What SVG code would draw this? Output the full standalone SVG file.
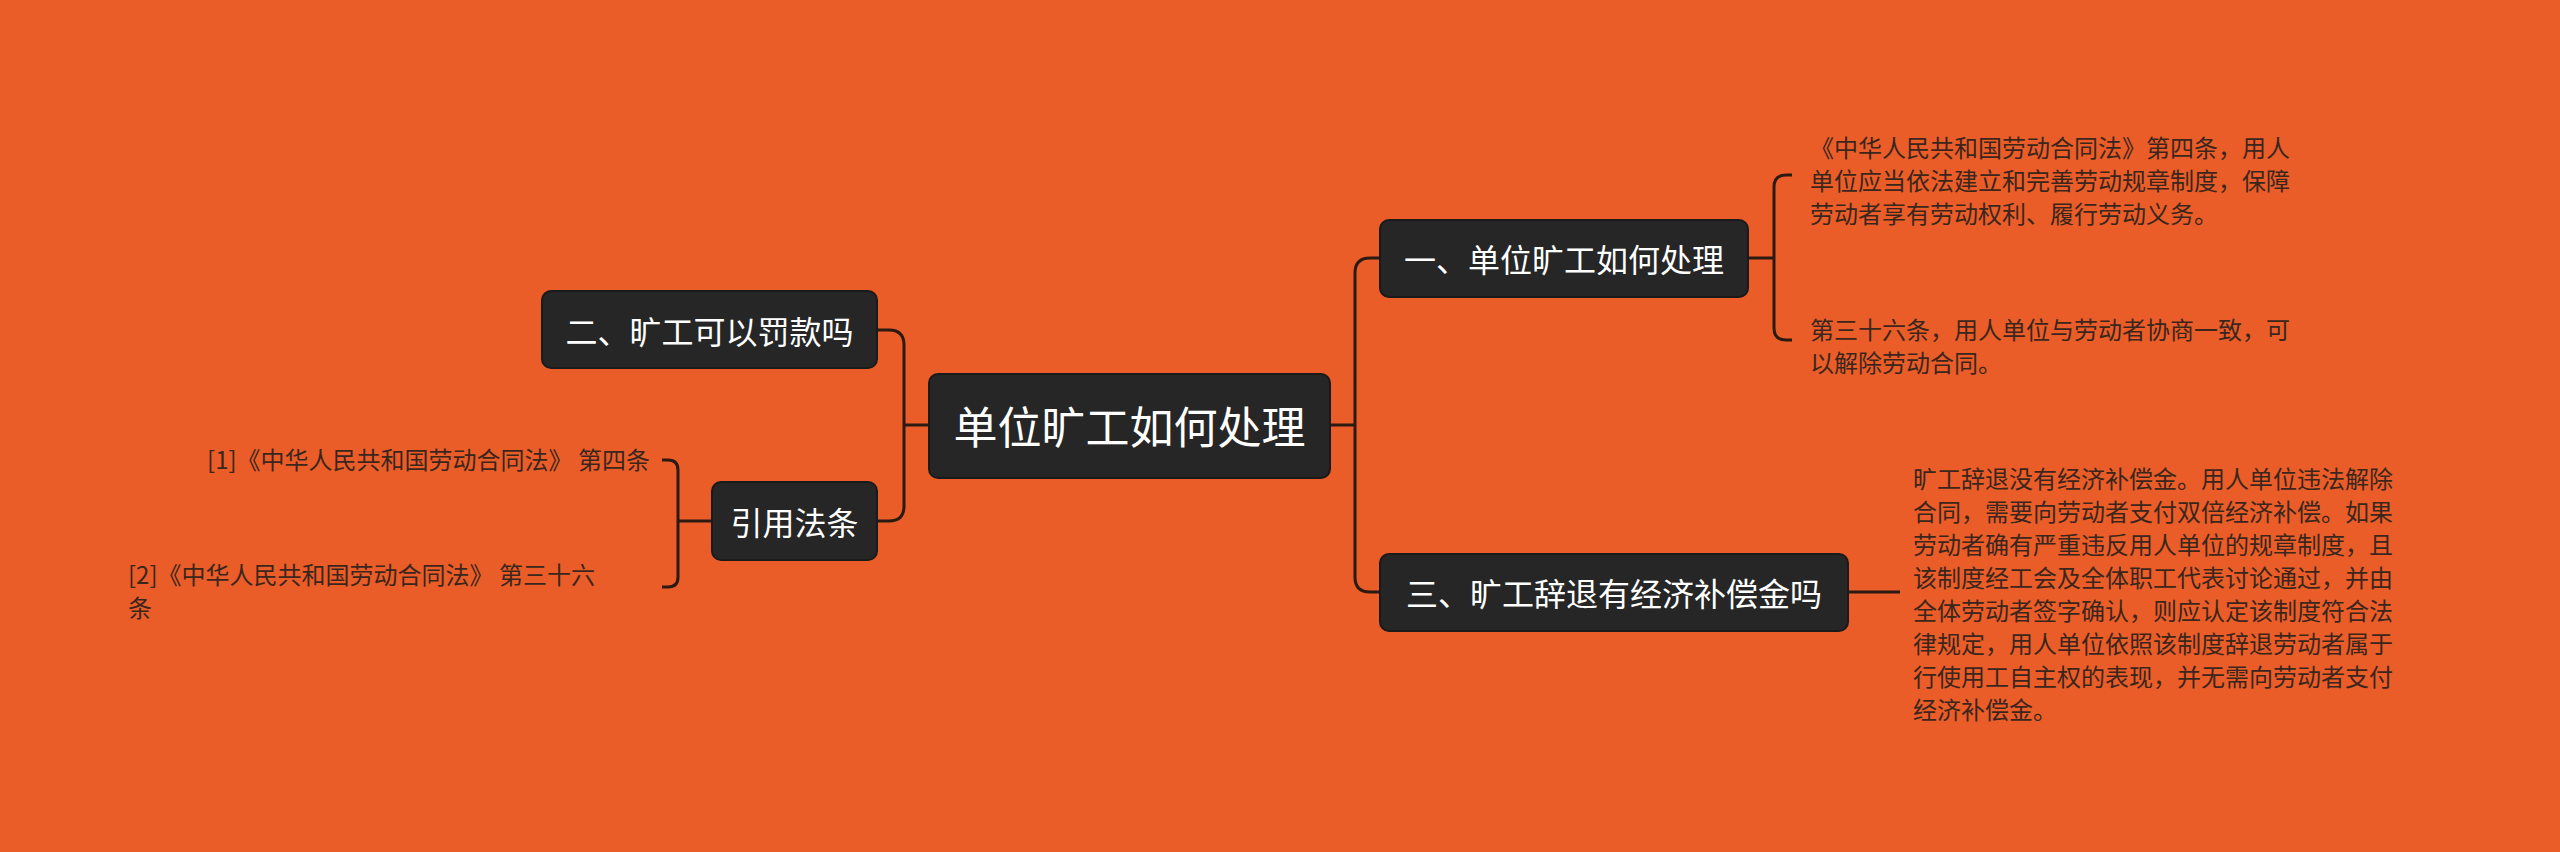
<svg xmlns="http://www.w3.org/2000/svg" width="2560" height="852" viewBox="0 0 2560 852">
<style>
.n{fill:#262626;stroke:#1a1a1a;stroke-width:2}
.t{fill:#fff;font-family:"Noto Sans CJK SC","Noto Sans",sans-serif;dominant-baseline:central}
.s{fill:#3a261c;font-family:"Noto Sans CJK SC","Noto Sans",sans-serif;font-size:24px;dominant-baseline:central}
.c{fill:none;stroke:#2a1a12;stroke-width:3}
</style>
<rect width="2560" height="852" fill="#EA5D28"/>
<g id="connectors">
<path class="c" d="M1330 425H1355M1380 258H1370Q1355 258 1355 273V577Q1355 592 1370 592H1380"/>
<path class="c" d="M929 425H904M877 330H889Q904 330 904 345V506Q904 521 889 521H877"/>
<path class="c" d="M1748 258H1774M1792 175H1786Q1774 175 1774 187V328Q1774 340 1786 340H1792"/>
<path class="c" d="M1848 592H1900"/>
<path class="c" d="M712 521H678M662 460H668Q678 460 678 470V577Q678 587 668 587H662"/>
</g>
<g id="center"><rect class="n" x="929" y="374" width="401" height="104" rx="9"/><text class="t" x="1129.5" y="425" font-size="44" text-anchor="middle">单位旷工如何处理</text></g>
<g id="b1"><rect class="n" x="1380" y="220" width="368" height="77" rx="9"/><text class="t" x="1564" y="258" font-size="32" text-anchor="middle">一、单位旷工如何处理</text></g>
<g id="b3"><rect class="n" x="1380" y="554" width="468" height="77" rx="9"/><text class="t" x="1614" y="592" font-size="32" text-anchor="middle">三、旷工辞退有经济补偿金吗</text></g>
<g id="b2"><rect class="n" x="542" y="291" width="335" height="77" rx="9"/><text class="t" x="709.5" y="330" font-size="32" text-anchor="middle">二、旷工可以罚款吗</text></g>
<g id="b4"><rect class="n" x="712" y="482" width="165" height="78" rx="9"/><text class="t" x="794.5" y="521" font-size="32" text-anchor="middle">引用法条</text></g>
<g id="l1"><text class="s" x="1810" y="146">《中华人民共和国劳动合同法》第四条，用人</text><text class="s" x="1810" y="179">单位应当依法建立和完善劳动规章制度，保障</text><text class="s" x="1810" y="212">劳动者享有劳动权利、履行劳动义务。</text></g>
<g id="l2"><text class="s" x="1810" y="328">第三十六条，用人单位与劳动者协商一致，可</text><text class="s" x="1810" y="361">以解除劳动合同。</text></g>
<g id="l3">
<text class="s" x="1913" y="477">旷工辞退没有经济补偿金。用人单位违法解除</text>
<text class="s" x="1913" y="510">合同，需要向劳动者支付双倍经济补偿。如果</text>
<text class="s" x="1913" y="543">劳动者确有严重违反用人单位的规章制度，且</text>
<text class="s" x="1913" y="576">该制度经工会及全体职工代表讨论通过，并由</text>
<text class="s" x="1913" y="609">全体劳动者签字确认，则应认定该制度符合法</text>
<text class="s" x="1913" y="642">律规定，用人单位依照该制度辞退劳动者属于</text>
<text class="s" x="1913" y="675">行使用工自主权的表现，并无需向劳动者支付</text>
<text class="s" x="1913" y="708">经济补偿金。</text>
</g>
<g id="r1"><text class="s" x="650" y="458" text-anchor="end">[1]《中华人民共和国劳动合同法》 第四条</text></g>
<g id="r2"><text class="s" x="128" y="573">[2]《中华人民共和国劳动合同法》 第三十六</text><text class="s" x="128" y="606">条</text></g>
</svg>
